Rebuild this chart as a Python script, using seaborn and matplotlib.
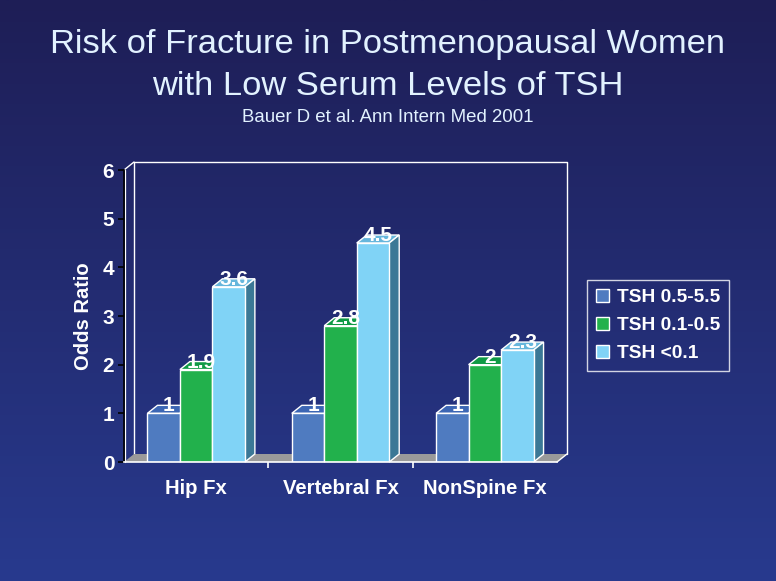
import numpy as np
import pandas as pd
import matplotlib
matplotlib.use("Agg")
import matplotlib.pyplot as plt
from matplotlib.patches import Polygon, Patch
import seaborn as sns

categories = ["Hip Fx", "Vertebral Fx", "NonSpine Fx"]
groups = ["TSH 0.5-5.5", "TSH 0.1-0.5", "TSH <0.1"]
vals_normal = [1, 1, 1]
vals_low = [1.9, 2.8, 2.0]
vals_vlow = [3.6, 4.5, 2.3]
value_labels = [["1", "1", "1"], ["1.9", "2.8", "2"], ["3.6", "4.5", "2.3"]]
yticks = [0, 1, 2, 3, 4, 5, 6]

front = ["#4f7bc0", "#22b14c", "#80d3f6"]
topc = ["#3c66b4", "#0f9a45", "#66b6dc"]
sidec = ["#2f4f8c", "#0c7a36", "#3b7896"]

rows = []
for g, vs in zip(groups, [vals_normal, vals_low, vals_vlow]):
    for c, v in zip(categories, vs):
        rows.append({"cat": c, "grp": g, "val": v})
df = pd.DataFrame(rows)

sns.set_theme(style="white")
plt.rcParams['font.family'] = ['Liberation Sans', 'DejaVu Sans']

fig = plt.figure(figsize=(7.76, 5.81), dpi=100)
# background gradient
bg = fig.add_axes([0, 0, 1, 1], zorder=-10)
grad = np.linspace(0, 1, 256).reshape(-1, 1)
top_rgb = np.array([30, 30, 86]) / 255
bot_rgb = np.array([40, 58, 142]) / 255
img = top_rgb[None, None, :] * (1 - grad[:, :, None]) + bot_rgb[None, None, :] * grad[:, :, None]
bg.imshow(img, aspect="auto", extent=[0, 1, 0, 1])
bg.axis("off")

ax = fig.add_axes([124 / 776, 1 - 462 / 581, 433 / 776, 292 / 581])
ax.patch.set_alpha(0)
sns.barplot(data=df, x="cat", y="val", hue="grp", hue_order=groups, order=categories,
            palette=front, saturation=1, width=0.675, edgecolor="white", linewidth=1.0,
            legend=False, ax=ax, zorder=3)
ax.set_xlim(-0.5, 2.5)
ax.set_ylim(0, 6)

dx = 10 / 433 * 3
dy = 8 / 292 * 6
xl, xr = -0.5, 2.5

# floor
ax.add_patch(Polygon([(xl, 0), (xr, 0), (xr + dx, dy), (xl + dx, dy)], closed=True,
                     facecolor="#9a9a9a", edgecolor="none", zorder=1, clip_on=False))
# back wall
ax.plot([xl + dx, xl + dx, xr + dx, xr + dx], [dy, 6 + dy, 6 + dy, dy], color="white", lw=1.0,
        zorder=0.5, clip_on=False)
ax.plot([xl, xl + dx], [6, 6 + dy], color="white", lw=1.0, zorder=0.5, clip_on=False)
ax.plot([xr, xr + dx], [0, dy], color="white", lw=1.0, zorder=2, clip_on=False)
ax.plot([xl + 0.006, xl + 0.006], [0, 6], color="white", lw=0.9, zorder=2, clip_on=False)

for j, cont in enumerate(ax.containers):
    for i, bar in enumerate(cont.patches):
        bar.set_zorder(3 + j + 0.5)
        x0 = bar.get_x()
        w = bar.get_width()
        h = bar.get_height()
        x1 = x0 + w
        ax.add_patch(Polygon([(x0, h), (x1, h), (x1 + dx, h + dy), (x0 + dx, h + dy)], closed=True,
                             facecolor=topc[j], edgecolor="white", lw=1.0, zorder=3 + j, clip_on=False))
        ax.add_patch(Polygon([(x1, 0), (x1 + dx, dy), (x1 + dx, h + dy), (x1, h)], closed=True,
                             facecolor=sidec[j], edgecolor="white", lw=1.0, zorder=3 + j, clip_on=False))
        ax.text(x0 + w / 2 + dx / 2, h + 0.04, value_labels[j][i], ha="center", va="baseline",
                color="white", fontsize=15, fontweight="bold", zorder=10, clip_on=False)

for s in ["top", "right"]:
    ax.spines[s].set_visible(False)
ax.spines["left"].set_color("black")
ax.spines["left"].set_linewidth(1.2)
ax.spines["bottom"].set_color("white")
ax.spines["bottom"].set_linewidth(1.2)
ax.spines["bottom"].set_zorder(20)

ax.set_yticks(yticks)
ax.set_yticklabels([str(t) for t in yticks])
ax.tick_params(axis="y", which="both", left=True, length=4, width=1.2, color="black",
               labelcolor="white", labelsize=15, pad=3)
for lab in ax.get_yticklabels():
    lab.set_fontweight("bold")
ax.set_xticks([0, 1, 2])
ax.set_xticklabels(categories)
ax.tick_params(axis="x", bottom=False, labelcolor="white", labelsize=14.6, pad=6)
for lab in ax.get_xticklabels():
    lab.set_fontweight("bold")
ax.set_xticks([0.5, 1.5], minor=True)
ax.tick_params(axis="x", which="minor", bottom=True, length=4, width=1.2, color="white")
ax.set_xlabel("")
ax.set_ylabel("Odds Ratio", color="white", fontsize=14.5, fontweight="bold", labelpad=7)

handles = [Patch(facecolor=c, edgecolor="white", lw=1.0) for c in front]
leg = fig.legend(handles, groups, loc="upper left", bbox_to_anchor=(587 / 776, 1 - 280 / 581),
                 frameon=True, fancybox=False, handlelength=0.7, handleheight=0.7,
                 handletextpad=0.4, labelspacing=0.55, borderpad=0.45, borderaxespad=0,
                 prop={"size": 13.8, "weight": "bold"})
leg.get_frame().set_facecolor("none")
leg.get_frame().set_edgecolor("white")
leg.get_frame().set_linewidth(1.0)
for t in leg.get_texts():
    t.set_color("white")

title_col = "#e2f2ff"
fig.text(0.5, 1 - 53 / 581, "Risk of Fracture in Postmenopausal Women", ha="center", va="baseline",
         color=title_col, fontsize=24.8)
fig.text(0.5, 1 - 95 / 581, "with Low Serum Levels of TSH", ha="center", va="baseline",
         color=title_col, fontsize=24.8)
fig.text(0.5, 1 - 122 / 581, "Bauer D et al. Ann Intern Med 2001", ha="center", va="baseline",
         color=title_col, fontsize=13.4)

fig.savefig("out.png", dpi=100)
